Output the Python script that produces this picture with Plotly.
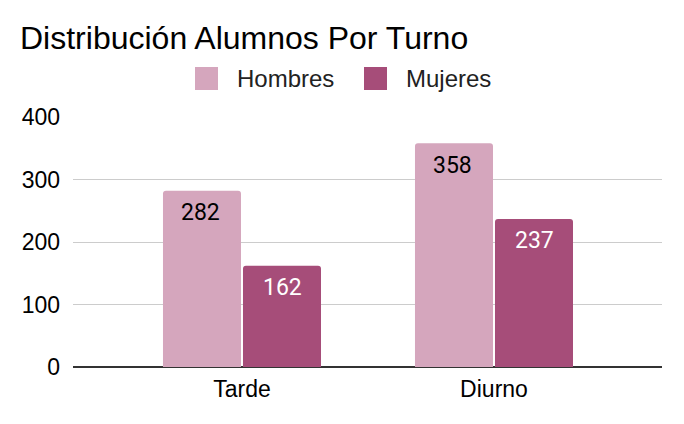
import plotly.graph_objects as go

categories = ["Tarde", "Diurno"]
hombres = [282, 358]
mujeres = [162, 237]
series_names = ["Hombres", "Mujeres"]
series_colors = ["#d5a6bd", "#a64d79"]
label_colors = ["#000000", "#ffffff"]
y_ticks = [0, 100, 200, 300, 400]

# The page body has an 8px margin, so figure pixel = page pixel - 8
W, H = 676, 416
L, R, T, B = 65, 22, 109, 57
PW, PH = W - L - R, H - T - B


def px_x(fx):
    return (fx - L) / PW


def px_y(fy):
    return (H - B - fy) / PH


fig = go.Figure()
annotations = []
bar_offsets = [-41, 41]
for name, vals, col, lc, off in zip(series_names, [hombres, mujeres], series_colors,
                                     label_colors, bar_offsets):
    fig.add_trace(go.Bar(
        x=categories, y=vals, name=name,
        marker=dict(color=col, line=dict(width=0)),
        showlegend=False,
    ))
    for c, v in zip(categories, vals):
        annotations.append(dict(text=str(v), x=c, y=v, xref="x", yref="y",
                                xshift=off, yshift=-22, xanchor="center", yanchor="middle",
                                showarrow=False,
                                font=dict(family="Roboto", size=23, color=lc)))

# Manual legend (larger swatches, like the reference)
legend_swatch_x = [187, 356]
legend_text_x = [227, 396]
shapes = []
for name, col, sx, tx in zip(series_names, series_colors, legend_swatch_x, legend_text_x):
    shapes.append(dict(type="rect", xref="paper", yref="paper",
                       x0=px_x(sx), x1=px_x(sx + 23), y0=px_y(59), y1=px_y(82),
                       fillcolor=col, line=dict(width=0), layer="above"))
    annotations.append(dict(text=name, xref="paper", yref="paper",
                            x=px_x(tx), y=px_y(70.5), xanchor="left", yanchor="middle",
                            showarrow=False,
                            font=dict(family="Liberation Sans, Arial", size=24, color="#222222")))

fig.update_layout(
    width=W, height=H,
    margin=dict(l=L, r=R, t=T, b=B, autoexpand=False),
    paper_bgcolor="white", plot_bgcolor="white",
    barmode="group", bargap=0.365, bargroupgap=0.025,
    barcornerradius=3,
    showlegend=False,
    shapes=shapes, annotations=annotations,
    title=dict(text="Distribución Alumnos Por Turno", x=12 / W, xref="container", xanchor="left",
               y=1 - 30 / H, yref="container", yanchor="middle",
               font=dict(family="Liberation Sans, Arial", size=32, color="#000000")),
)
fig.update_xaxes(
    range=[-0.6706, 1.6667], showgrid=False, showline=False, zeroline=False,
    tickfont=dict(family="Liberation Sans, Arial", size=23, color="#000000"),
    ticks="", ticklabelstandoff=6,
)
fig.update_yaxes(
    range=[0, 400], tickvals=y_ticks, showgrid=True, gridcolor="#cccccc", gridwidth=1,
    zeroline=True, zerolinecolor="#333333", zerolinewidth=2,
    showline=False, ticks="", ticklabelstandoff=12,
    tickfont=dict(family="Liberation Sans, Arial", size=23, color="#000000"),
)

fig.write_html("out.html")
